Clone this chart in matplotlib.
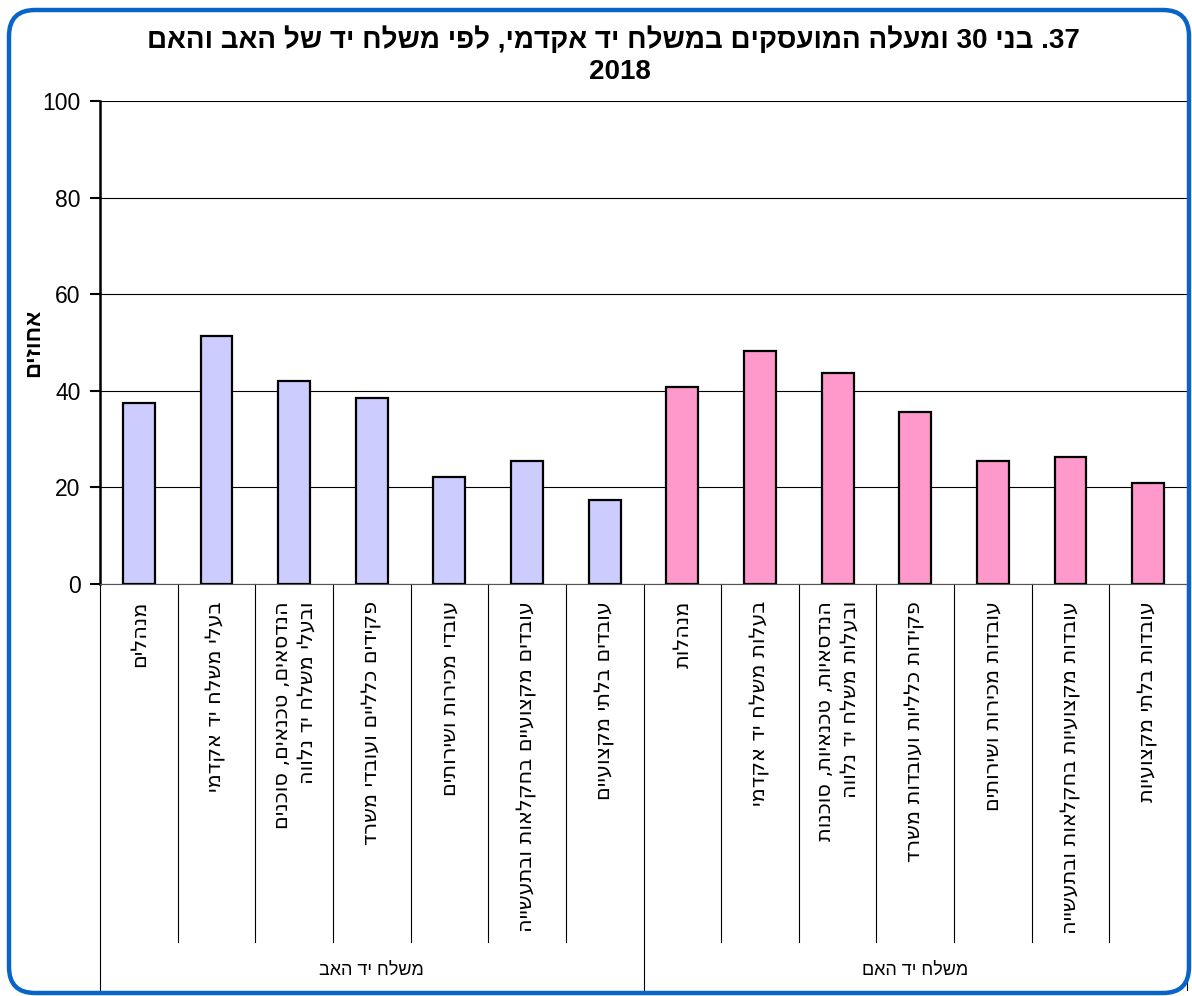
import re
import matplotlib
matplotlib.use("Agg")
from matplotlib import pyplot as plt
from matplotlib.patches import FancyBboxPatch
from matplotlib.transforms import blended_transform_factory

plt.rcParams['font.family'] = ['Liberation Sans', 'DejaVu Sans']

title_line1 = "37. בני 30 ומעלה המועסקים במשלח יד אקדמי, לפי משלח יד של האב והאם"
title_line2 = "2018"
y_title = "אחוזים"
groups = ["משלח יד האב", "משלח יד האם"]

father_labels = [
    "מנהלים",
    "בעלי משלח יד אקדמי",
    "הנדסאים, טכנאים, סוכנים\nובעלי משלח יד נלווה",
    "פקידים כלליים ועובדי משרד",
    "עובדי מכירות ושירותים",
    "עובדים מקצועיים בחקלאות ובתעשייה",
    "עובדים בלתי מקצועיים",
]
mother_labels = [
    "מנהלות",
    "בעלות משלח יד אקדמי",
    "הנדסאיות, טכנאיות, סוכנות\nובעלות משלח יד נלווה",
    "פקידות כלליות ועובדות משרד",
    "עובדות מכירות ושירותים",
    "עובדות מקצועיות בחקלאות ובתעשייה",
    "עובדות בלתי מקצועיות",
]
father_values = [37.4, 51.4, 42.1, 38.6, 22.1, 25.4, 17.4]
mother_values = [40.8, 48.2, 43.7, 35.6, 25.4, 26.2, 21.0]


def heb(s):
    # matplotlib has no bidi: draw Hebrew in visual order, keep numbers LTR
    lines = []
    for line in s.split("\n"):
        r = line[::-1]
        lines.append(re.sub(r"\d+", lambda m: m.group(0)[::-1], r))
    return "\n".join(lines)


W, H = 1192, 996
fig = plt.figure(figsize=(W / 100, H / 100), dpi=100)

# rounded blue frame
frame = FancyBboxPatch((9, 3), 1180, 983, boxstyle="round,pad=0,rounding_size=26",
                       transform=None, fill=False, edgecolor="#0A64C8", linewidth=3.2)
fig.add_artist(frame)

left, right, top, bottom = 100, 1187, 101, 584
ax = fig.add_axes([left / W, 1 - bottom / H, (right - left) / W, (bottom - top) / H])

n = len(father_values)
x_f = list(range(n))
x_m = list(range(n, 2 * n))
ax.bar(x_f, father_values, width=0.41, color="#CCCCFF", edgecolor="black", linewidth=1.6, zorder=3)
ax.bar(x_m, mother_values, width=0.41, color="#FF99CC", edgecolor="black", linewidth=1.6, zorder=3)

ax.set_xlim(-0.5, 2 * n - 0.5)
ax.set_ylim(0, 100)
ax.set_yticks(range(0, 101, 20))
ax.yaxis.grid(True, color="black", linewidth=0.8, zorder=0)
ax.set_axisbelow(True)
ax.tick_params(axis="y", labelsize=16.5, length=7, width=1.5, direction="out", pad=7)
ax.set_xticks([])
for s in ["top", "right"]:
    ax.spines[s].set_visible(False)
ax.spines["left"].set_linewidth(1.8)
ax.spines["bottom"].set_linewidth(0.8)
ax.spines["bottom"].set_color("#555555")

fig.text(34 / W, 1 - 343 / H, heb(y_title), rotation=90, ha="center", va="center",
         fontsize=16, fontweight="bold")

# category labels and separators below the axis
tr = blended_transform_factory(ax.transData, ax.transAxes)
ph = bottom - top
y_lab = -(601 - bottom) / ph
y_sep = -(942 - bottom) / ph
y_grp = -(990 - bottom) / ph
y_gtxt = -(970 - bottom) / ph

for i, lab in enumerate(father_labels + mother_labels):
    ax.text(i, y_lab, heb(lab), transform=tr, rotation=90, rotation_mode="anchor",
            ha="right", va="center", multialignment="right", fontsize=15,
            linespacing=1.3, family=["DejaVu Sans"])

for i in range(1, 2 * n):
    if i == n:
        continue
    ax.plot([i - 0.5, i - 0.5], [0, y_sep], transform=tr, color="black", linewidth=0.8, clip_on=False)
for xg in [-0.5, n - 0.5, 2 * n - 0.5]:
    ax.plot([xg, xg], [0, y_grp], transform=tr, color="black", linewidth=0.8, clip_on=False)

ax.text((n - 1) / 2, y_gtxt, heb(groups[0]), transform=tr, ha="center", va="center", fontsize=13)
ax.text(n + (n - 1) / 2, y_gtxt, heb(groups[1]), transform=tr, ha="center", va="center", fontsize=13)

fig.text(613 / W, 1 - 40 / H, heb(title_line1), ha="center", va="center", fontsize=20, fontweight="bold")
fig.text(620 / W, 1 - 72 / H, title_line2, ha="center", va="center", fontsize=20, fontweight="bold")

fig.savefig("out.png", dpi=100)
